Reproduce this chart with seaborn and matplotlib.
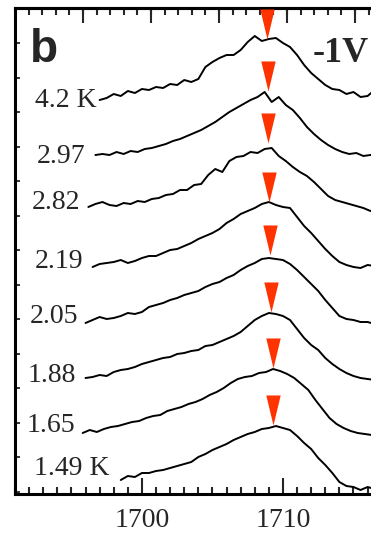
import numpy as np
import pandas as pd
import seaborn as sns
import matplotlib
matplotlib.use("Agg")
import matplotlib.pyplot as plt
from matplotlib.ticker import MultipleLocator, FixedLocator, NullFormatter

# ---------------------------------------------------------------------------
# PL spectra at -1 V for a series of temperatures (offset vertically, a.u.)
# Each spectrum is sampled every 0.5 nm starting at its own wavelength.
# ---------------------------------------------------------------------------
temperatures = ["4.2 K", "2.97", "2.82", "2.19", "2.05", "1.88", "1.65", "1.49 K"]
start_nm = [1697.0, 1696.7, 1696.2, 1696.5, 1696.0, 1696.0, 1695.8, 1698.5]
step_nm = 0.5

spec_4p2 = [394, 396, 400, 398, 403, 401, 405, 404, 407, 406, 410, 409, 414, 412,
            415, 427, 432, 436, 439, 439, 444, 452, 458, 453, 455, 456, 451, 447,
            439, 429, 421, 415, 409, 405, 404, 400, 402, 397, 398, 404]
spec_2p97 = [339, 340, 339, 342, 340, 343, 342, 345, 346, 348, 350, 353, 355, 358,
             361, 364, 368, 372, 377, 382, 386, 390, 394, 397, 402, 392, 397, 389,
             384, 376, 367, 360, 354, 349, 345, 342, 340, 341, 338, 339, 339]
spec_2p82 = [287, 290, 292, 289, 288, 291, 290, 293, 292, 295, 296, 299, 300, 304,
             304, 309, 310, 319, 325, 322, 333, 337, 338, 342, 341, 345, 346, 338,
             333, 327, 322, 318, 312, 305, 298, 294, 292, 290, 288, 286, 283, 286]
spec_2p19 = [227, 230, 231, 232, 234, 231, 233, 236, 238, 238, 241, 244, 245, 248,
             251, 255, 258, 261, 265, 271, 275, 280, 283, 286, 290, 292, 289, 287,
             286, 277, 268, 261, 253, 245, 238, 232, 229, 227, 226, 229, 228]
spec_2p05 = [171, 174, 177, 175, 176, 178, 181, 180, 182, 187, 189, 191, 194, 196,
             199, 201, 203, 207, 210, 212, 216, 219, 224, 228, 231, 235, 236, 235,
             234, 230, 224, 217, 210, 203, 194, 186, 178, 175, 174, 172, 172, 170]
spec_1p88 = [116, 117, 119, 118, 122, 124, 125, 127, 130, 132, 134, 136, 137, 140,
             141, 143, 144, 148, 149, 152, 155, 158, 162, 168, 174, 178, 181, 180,
             178, 174, 165, 156, 149, 144, 136, 130, 125, 121, 118, 116, 115, 114]
spec_1p65 = [61, 64, 62, 65, 67, 68, 70, 72, 73, 76, 78, 79, 83, 85, 87, 90, 92, 95,
             99, 102, 106, 111, 115, 117, 118, 121, 122, 125, 123, 120, 116, 110,
             104, 94, 85, 76, 70, 66, 63, 61, 60, 59]
spec_1p49 = [14, 18, 17, 21, 21, 23, 24, 26, 28, 30, 32, 37, 40, 44, 47, 50, 54, 57,
             60, 62, 65, 66, 68, 66, 64, 58, 51, 45, 36, 29, 21, 12, 8, 7, 4, 7, 5]

spectra = [spec_4p2, spec_2p97, spec_2p82, spec_2p19,
           spec_2p05, spec_1p88, spec_1p65, spec_1p49]

# Peak positions (nm) and peak heights (a.u.) marked by the arrows
peak_nm = [1708.87, 1708.91, 1708.91, 1708.99, 1709.06, 1709.17, 1709.27, 1709.27]
peak_height = [455, 403, 351, 292, 239, 182, 126, 69]

# Labelled wavelengths on the bottom axis
xtick_nm = [1700, 1710]

# ---------------------------------------------------------------------------
rows = []
for T, x0, sp in zip(temperatures, start_nm, spectra):
    wl = x0 + step_nm * np.arange(len(sp))
    for w, v in zip(wl, sp):
        rows.append({"T": T, "wavelength": w, "intensity": v})
df = pd.DataFrame(rows)
peaks = pd.DataFrame({"T": temperatures, "wavelength": peak_nm, "intensity": peak_height})

sns.set_style("ticks")
plt.rcParams["font.family"] = ["Liberation Serif", "DejaVu Serif"]
plt.rcParams["axes.linewidth"] = 2.2
plt.rcParams["axes.edgecolor"] = "black"

fig = plt.figure(figsize=(3.71, 5.40), dpi=100)
# axes run past the right edge of the canvas
ax = fig.add_axes([15 / 371, 46 / 540, 409 / 371, 486 / 540])

sns.lineplot(data=df, x="wavelength", y="intensity", units="T", estimator=None,
             sort=False, color="black", lw=1.4, ax=ax, legend=False)

# downward arrowheads with the tip sitting on each peak
arrow = [(0.0, 0.0), (-0.48, 2.0), (0.48, 2.0)]
sns.scatterplot(data=peaks, x="wavelength", y="intensity", marker=arrow, s=1870,
                color="#ff3300", linewidth=0, ax=ax, legend=False, zorder=5)

ax.set_xlim(1691.0, 1720.0)
ax.set_ylim(0, 486)
ax.set_xlabel("")
ax.set_ylabel("")

# bottom axis
ax.xaxis.set_major_locator(FixedLocator(xtick_nm))
ax.xaxis.set_minor_locator(MultipleLocator(1))
ax.tick_params(axis="x", which="major", direction="in", length=11.5, width=1.5,
               labelsize=20, pad=10, top=False)
ax.tick_params(axis="x", which="minor", direction="in", length=5, width=1.5, top=False)

# left axis: unlabeled inward ticks
ax.yaxis.set_major_locator(MultipleLocator(34.5, offset=2.5))
ax.yaxis.set_major_formatter(NullFormatter())
ax.tick_params(axis="y", which="major", direction="in", length=3.5, width=1.3)

# top axis on its own scale
top = ax.secondary_xaxis("top")
top.xaxis.set_major_locator(MultipleLocator(4.8225, offset=3.12))
top.xaxis.set_minor_locator(MultipleLocator(0.9645, offset=0.23))
top.xaxis.set_major_formatter(NullFormatter())
top.tick_params(which="major", direction="in", length=11, width=1.5)
top.tick_params(which="minor", direction="in", length=5, width=1.5)
top.spines["top"].set_linewidth(2.2)

# temperature labels
label_x = [1696.81, 1695.96, 1695.60, 1695.82, 1695.46, 1695.32, 1695.25, 1697.73]
label_y = [387, 331, 285, 226, 171, 112, 62, 19]
for T, lx, ly in zip(temperatures, label_x, label_y):
    ax.text(lx, ly, T, ha="right", va="baseline", fontsize=20)

fig.text(30 / 371, 1 - 62 / 540, "b", fontsize=33, fontweight="bold",
         family=["Liberation Sans", "DejaVu Sans"], va="baseline", ha="left")
fig.text(313 / 371, 1 - 62 / 540, "-1V", fontsize=26, fontweight="bold",
         va="baseline", ha="left")

fig.savefig("out.png", dpi=100)
